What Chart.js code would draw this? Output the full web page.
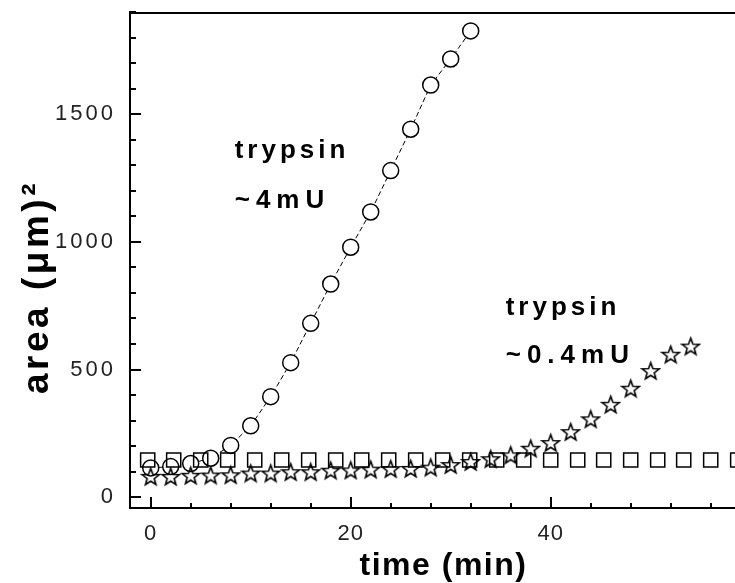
<!DOCTYPE html>
<html>
<head>
<meta charset="utf-8">
<script src="https://cdn.jsdelivr.net/npm/chart.js@4/dist/chart.umd.min.js"></script>
<style>
  html, body { margin: 0; padding: 0; background: #fff; overflow: hidden; }
  canvas { display: block; }
</style>
</head>
<body>
<canvas id="chart" width="735" height="583"></canvas>
<script>
// Cell area growth under two trypsin doses, plus a control series.
const timeHigh = [0, 2, 4, 6, 8, 10, 12, 14, 16, 18, 20, 22, 24, 26, 28, 30, 32];
const areaHigh = [115, 120, 132, 153, 203, 280, 394, 527, 681, 835, 979, 1117, 1279, 1441, 1614, 1716, 1826];

const timeLow = [0, 2, 4, 6, 8, 10, 12, 14, 16, 18, 20, 22, 24, 26, 28, 30, 32, 34, 36, 38, 40, 42, 44, 46, 48, 50, 52, 54];
const areaLow = [82, 82, 86, 87, 88, 95, 95, 100, 100, 106, 107, 110, 112, 113, 118, 128, 140, 151, 166, 192, 214, 257, 307, 364, 427, 496, 560, 592];

const timeControl = [-0.3, 2.3, 5.0, 7.7, 10.4, 13.1, 15.8, 18.5, 21.1, 23.8, 26.5, 29.2, 31.9, 34.6, 37.3, 40.0, 42.7, 45.3, 48.0, 50.7, 53.3, 56.0, 58.7];
const areaControl = [146, 146, 146, 146, 146, 146, 146, 146, 146, 146, 146, 146, 146, 146, 146, 146, 146, 146, 146, 146, 146, 146, 146];

const yTickLabels = [0, 500, 1000, 1500];
const xTickLabels = [0, 20, 40];

const FONT = 'Liberation Sans, Arial, sans-serif';

// Outlined five-pointed star used as a point marker.
function makeStar(size, lw) {
  const c = document.createElement('canvas');
  c.width = size; c.height = size;
  const g = c.getContext('2d');
  const cx = size / 2, cy = size / 2 + size * 0.05;
  const R = size / 2 - lw, r = R * 0.42;
  g.beginPath();
  for (let i = 0; i < 10; i++) {
    const a = -Math.PI / 2 + i * Math.PI / 5;
    const rad = i % 2 ? r : R;
    g.lineTo(cx + rad * Math.cos(a), cy + rad * Math.sin(a));
  }
  g.closePath();
  g.lineWidth = lw;
  g.strokeStyle = '#000';
  g.stroke();
  return c;
}
const starImg = makeStar(21, 1.6);

const pts = (xs, ys) => xs.map((x, i) => ({ x, y: ys[i] }));

const notes = [
  { lines: ['trypsin', '~4mU'], x: 8.4, y: [1329, 1133] },
  { lines: ['trypsin', '~0.4mU'], x: 35.5, y: [715, 525] }
];

const decor = {
  id: 'decor',
  beforeDraw(chart) {
    chart.ctx.letterSpacing = '1px';
  },
  beforeDatasetsDraw(chart) {
    const { ctx, chartArea: a, scales: { x, y } } = chart;
    ctx.save();
    ctx.strokeStyle = '#000';
    ctx.lineWidth = 2;
    ctx.beginPath();
    // top frame line
    ctx.moveTo(a.left - 1, a.top + 1);
    ctx.lineTo(a.right, a.top + 1);
    // inward tick marks
    y.ticks.forEach(t => {
      const py = Math.round(y.getPixelForValue(t.value));
      const len = yTickLabels.includes(t.value) ? 11 : 6;
      ctx.moveTo(a.left, py);
      ctx.lineTo(a.left + len, py);
    });
    x.ticks.forEach(t => {
      const px = Math.round(x.getPixelForValue(t.value));
      const len = xTickLabels.includes(t.value) ? 11 : 5;
      ctx.moveTo(px, a.bottom);
      ctx.lineTo(px, a.bottom - len);
    });
    ctx.stroke();
    ctx.restore();
  },
  afterDatasetsDraw(chart) {
    chart.ctx.letterSpacing = '3px';
  },
  afterDraw(chart) {
    const { ctx, chartArea: a, scales: { x, y } } = chart;
    ctx.save();
    ctx.fillStyle = '#000';
    ctx.textBaseline = 'alphabetic';

    // axis titles
    ctx.letterSpacing = '1.5px';
    ctx.font = 'bold 32px ' + FONT;
    ctx.textAlign = 'center';
    ctx.fillText('time (min)', (a.left + a.right) / 2 + 11, a.bottom + 67);

    ctx.save();
    ctx.letterSpacing = '3.5px';
    ctx.font = 'bold 37px ' + FONT;
    ctx.translate(a.left - 82, (a.top + a.bottom) / 2 + 27);
    ctx.rotate(-Math.PI / 2);
    ctx.fillText('area (\u03bcm)\u00b2', 0, 0);
    ctx.restore();

    // series notes
    ctx.font = 'bold 26px ' + FONT;
    ctx.textAlign = 'left';
    notes.forEach(n => {
      n.lines.forEach((s, i) => {
        ctx.letterSpacing = i === 0 ? '4px' : '6px';
        ctx.fillText(s, x.getPixelForValue(n.x), y.getPixelForValue(n.y[i]));
      });
    });
    ctx.restore();
    ctx.letterSpacing = '0px';
  }
};

new Chart(document.getElementById('chart'), {
  type: 'scatter',
  data: {
    datasets: [
      {
        label: 'trypsin ~4mU',
        data: pts(timeHigh, areaHigh),
        showLine: true,
        borderColor: '#000',
        borderWidth: 1,
        borderDash: [5, 3],
        pointStyle: 'circle',
        pointRadius: 8,
        pointBorderWidth: 1.5,
        pointBorderColor: '#000',
        pointBackgroundColor: '#fff',
        order: 2
      },
      {
        label: 'control',
        data: pts(timeControl, areaControl),
        showLine: false,
        pointStyle: 'rect',
        pointRadius: 10,
        pointBorderWidth: 1.5,
        pointBorderColor: '#000',
        pointBackgroundColor: 'rgba(255,255,255,0)',
        order: 1
      },
      {
        label: 'trypsin ~0.4mU',
        data: pts(timeLow, areaLow),
        showLine: false,
        pointStyle: starImg,
        pointRadius: 9,
        order: 0
      }
    ]
  },
  options: {
    responsive: false,
    animation: false,
    devicePixelRatio: 1,
    layout: { autoPadding: false, padding: { top: 12, right: 0, bottom: 0, left: 0 } },
    plugins: { legend: { display: false }, tooltip: { enabled: false } },
    scales: {
      x: {
        type: 'linear',
        min: -2.07,
        max: 58.43,
        border: { display: true, color: '#000', width: 2 },
        grid: { display: false, drawTicks: false },
        ticks: {
          stepSize: 4,
          autoSkip: false,
          includeBounds: false,
          maxRotation: 0,
          padding: 13,
          color: '#222',
          font: { family: FONT, size: 22 },
          callback: v => (xTickLabels.includes(v) ? String(v) : '')
        },
        afterFit: s => { s.height = 75; s.paddingLeft = 0; s.paddingRight = 0; }
      },
      y: {
        type: 'linear',
        min: -42,
        max: 1900,
        border: { display: true, color: '#000', width: 2 },
        grid: { display: false, drawTicks: false },
        ticks: {
          z: 1,
          stepSize: 100,
          autoSkip: false,
          includeBounds: false,
          padding: 14,
          color: '#222',
          font: { family: FONT, size: 22 },
          callback: v => (yTickLabels.includes(v) ? String(v) : '')
        },
        afterFit: s => { s.width = 130; s.paddingTop = 0; s.paddingBottom = 0; }
      }
    }
  },
  plugins: [decor]
});
</script>
</body>
</html>
